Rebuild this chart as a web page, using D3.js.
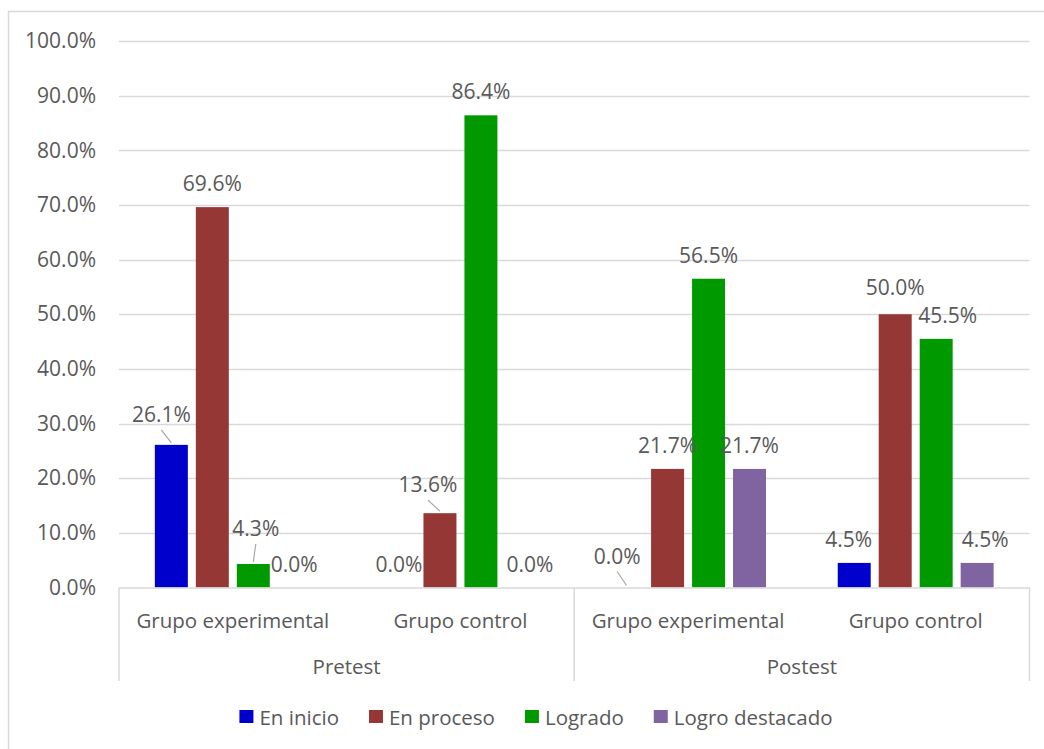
<!DOCTYPE html>
<html>
<head>
<meta charset="utf-8">
<script src="https://cdn.jsdelivr.net/npm/d3@7/dist/d3.min.js"></script>
<style>
  html, body { margin: 0; padding: 0; background: #fff; }
  svg { display: block; }
  text { font-family: "Open Sans", "Noto Sans", sans-serif; fill: #595959; }
</style>
</head>
<body>
<svg id="chart" width="1044" height="749"></svg>
<script>
// Phases and groups (two-level category axis)
const phases = ["Pretest", "Postest"];
const groups = ["Grupo experimental", "Grupo control"];
const categories = ["Pretest|Grupo experimental", "Pretest|Grupo control",
                    "Postest|Grupo experimental", "Postest|Grupo control"];
// Achievement levels
const series = ["En inicio", "En proceso", "Logrado", "Logro destacado"];
// Percentages per category, one array per level
const enInicio       = [26.1, 0.0, 0.0, 4.5];
const enProceso      = [69.6, 13.6, 21.7, 50.0];
const logrado        = [4.3, 86.4, 56.5, 45.5];
const logroDestacado = [0.0, 0.0, 21.7, 4.5];
const yTicks = [0, 10, 20, 30, 40, 50, 60, 70, 80, 90, 100];

const values = [enInicio, enProceso, logrado, logroDestacado];
const colors = ["#0000CC", "#953735", "#009900", "#8064A2"];

// Hand-placed data labels (offset from default spot, with leader line)
const labelNudge = {
  "0-0": { dx: -10, dy: -7, leader: true },
  "2-0": { dx: 2.5, dy: -12, leader: true },
  "1-1": { dx: -12, dy: -5, leader: true },
  "3-1": { dx: 8, dy: 0 },
  "0-2": { dx: -9.5, dy: -8, leader: true },
  "1-3": { dx: 0, dy: -3 },
  "2-3": { dx: 11.5, dy: 0 },
  "0-3": { dx: -5.5, dy: 0 },
  "3-3": { dx: 8, dy: 0 }
};

const FS = 21;     // value / tick labels
const FS_CAT = 20.5;

const svg = d3.select("#chart");

// Chart frame (top and left edges)
svg.append("path")
  .attr("d", "M8.5,749 V11.5 H1044")
  .attr("fill", "none").attr("stroke", "#d9d9d9").attr("stroke-width", 1.5);

const plot = { left: 119, right: 1029.5, top: 41, bottom: 587.5 };

const y = d3.scaleLinear().domain([0, 100]).range([plot.bottom, plot.top]);
const x0 = d3.scaleBand().domain(categories).range([plot.left, plot.right]).paddingInner(0).paddingOuter(0);
const x1 = d3.scaleBand().domain(series).range([0, x0.bandwidth()]).paddingInner(0.195).paddingOuter(0.875);

// Gridlines
svg.append("g").selectAll("line").data(yTicks.filter(d => d > 0)).join("line")
  .attr("x1", plot.left).attr("x2", plot.right)
  .attr("y1", d => Math.round(y(d)) + 0.5).attr("y2", d => Math.round(y(d)) + 0.5)
  .attr("stroke", "#d9d9d9").attr("stroke-width", 1.5);

// Y axis labels
const yAxis = d3.axisLeft(y).tickValues(yTicks).tickFormat(d => d.toFixed(1) + "%").tickSize(0).tickPadding(23);
const yg = svg.append("g").attr("transform", `translate(${plot.left},0)`).call(yAxis);
yg.select(".domain").remove();
yg.selectAll("text").attr("font-size", FS).attr("fill", "#595959")
  .attr("font-family", "'Open Sans', sans-serif");

// Bars
const barG = svg.append("g");
categories.forEach((c, ci) => {
  series.forEach((s, si) => {
    const v = values[si][ci];
    barG.append("rect")
      .attr("x", x0(c) + x1(s))
      .attr("y", y(v))
      .attr("width", x1.bandwidth())
      .attr("height", y(0) - y(v))
      .attr("fill", colors[si]);
  });
});

// Category axis: baseline, separators, labels
const axG = svg.append("g");
axG.append("line").attr("x1", plot.left).attr("x2", plot.right)
  .attr("y1", plot.bottom + 0.5).attr("y2", plot.bottom + 0.5)
  .attr("stroke", "#d9d9d9").attr("stroke-width", 1.5);
const sepX = [x0(categories[0]), x0(categories[2]), x0(categories[3]) + x0.bandwidth()];
axG.selectAll("line.sep").data(sepX).join("line").attr("class", "sep")
  .attr("x1", d => d).attr("x2", d => d)
  .attr("y1", plot.bottom).attr("y2", 681)
  .attr("stroke", "#d9d9d9").attr("stroke-width", 1.5);
axG.selectAll("text.cat").data(categories).join("text").attr("class", "cat")
  .attr("x", d => x0(d) + x0.bandwidth() / 2)
  .attr("y", 628)
  .attr("text-anchor", "middle").attr("font-size", FS_CAT)
  .text(d => d.split("|")[1]);
axG.selectAll("text.phase").data(phases).join("text").attr("class", "phase")
  .attr("x", (d, i) => (x0(categories[i * 2]) + x0(categories[i * 2 + 1]) + x0.bandwidth()) / 2)
  .attr("y", 674)
  .attr("text-anchor", "middle").attr("font-size", FS_CAT)
  .text(d => d);

// Data labels
const lblG = svg.append("g");
categories.forEach((c, ci) => {
  series.forEach((s, si) => {
    const v = values[si][ci];
    const cx = x0(c) + x1(s) + x1.bandwidth() / 2;
    const top = y(v);
    const n = labelNudge[si + "-" + ci] || { dx: 0, dy: 0 };
    const tx = cx + n.dx, ty = top - 16 + n.dy;
    lblG.append("text").attr("x", tx).attr("y", ty)
      .attr("text-anchor", "middle").attr("font-size", FS)
      .text(v.toFixed(1) + "%");
    if (n.leader) {
      lblG.append("line")
        .attr("x1", tx).attr("y1", ty + 8)
        .attr("x2", cx).attr("y2", top - 2)
        .attr("stroke", "#a6a6a6").attr("stroke-width", 1.2);
    }
  });
});

// Legend
const leg = svg.append("g");
let lx = 0;
series.forEach((s, i) => {
  const g = leg.append("g").attr("transform", `translate(${lx},0)`);
  g.append("rect").attr("x", 0).attr("y", -15).attr("width", 14).attr("height", 13).attr("fill", colors[i]);
  const t = g.append("text").attr("x", 20).attr("y", 0).attr("font-size", FS_CAT).text(s);
  lx += 20 + t.node().getComputedTextLength() + 30;
});
const legW = lx - 30;
leg.attr("transform", `translate(${536 - legW / 2},725)`);
</script>
</body>
</html>
